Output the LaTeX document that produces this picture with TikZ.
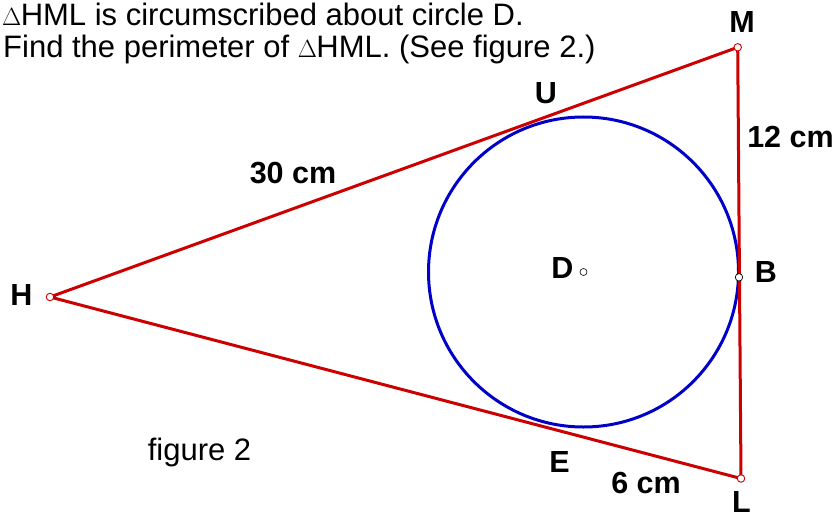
\documentclass[tikz,border=0pt]{standalone}
\usepackage{fontspec}
\setmainfont{Liberation Sans}
\definecolor{segred}{RGB}{204,0,0}
\definecolor{circblue}{RGB}{0,0,200}
\begin{document}
\begin{tikzpicture}[x=1pt,y=-1pt,
  txt/.style={inner sep=0pt, font=\fontsize{31}{34}\selectfont},
  lbl/.style={inner sep=0pt, anchor=base, font=\fontsize{30.5}{33}\selectfont\bfseries},
  redpt/.style={circle, draw=segred, fill=white, line width=0.9pt, inner sep=0pt, minimum size=7.5pt},
  blkpt/.style={circle, draw=black, fill=white, line width=0.7pt, inner sep=0pt, minimum size=7.5pt},
  seg/.style={draw=segred, line width=3pt, line join=round},
  circ/.style={draw=circblue, line width=3pt}]
\useasboundingbox (0,0) rectangle (837,516);
\fill[white] (0,0) rectangle (837,516);

% heading
\node[txt, anchor=base west] (t1) at (2,26) {$\Delta$\hspace{-0.02em}HML is circumscribed about circle D.};
\node[txt, anchor=base west] (t2) at (3,58) {Find the perimeter of $\Delta$\hspace{-0.02em}HML. (See figure 2.)};

% points
\coordinate (Hc) at (50,297);
\coordinate (Mc) at (737.7,47.3);
\coordinate (Lc) at (741,478.5);
\coordinate (Bc) at (739,277.3);
\coordinate (Dc) at (583.5,272);

% circle and triangle
\draw[circ] (Dc) circle[radius=155pt];
\draw[seg] (Hc) -- (Mc) -- (Lc) -- cycle;

% markers
\node[redpt] (H) at (Hc) {};
\node[redpt] (M) at (Mc) {};
\node[redpt] (L) at (Lc) {};
\node[blkpt] (B) at (Bc) {};
\node[blkpt, minimum size=7pt, line width=0.6pt] (D) at (Dc) {};

% labels
\node[lbl] (lM) at (742,32.5) {M};
\node[lbl] (lU) at (546,103) {U};
\node[lbl] (l30) at (293,183) {30 cm};
\node[lbl] (l12) at (790.5,147) {12 cm};
\node[lbl] (lB) at (766,282) {B};
\node[lbl] (lD) at (562.5,278) {D};
\node[lbl] (lH) at (21.5,305) {H};
\node[lbl] (lE) at (559.5,472) {E};
\node[lbl] (l6) at (646,493) {6 cm};
\node[lbl] (lL) at (741.5,512) {L};
\node[txt, anchor=base] (fig) at (199.5,460) {figure 2};
\end{tikzpicture}
\end{document}
